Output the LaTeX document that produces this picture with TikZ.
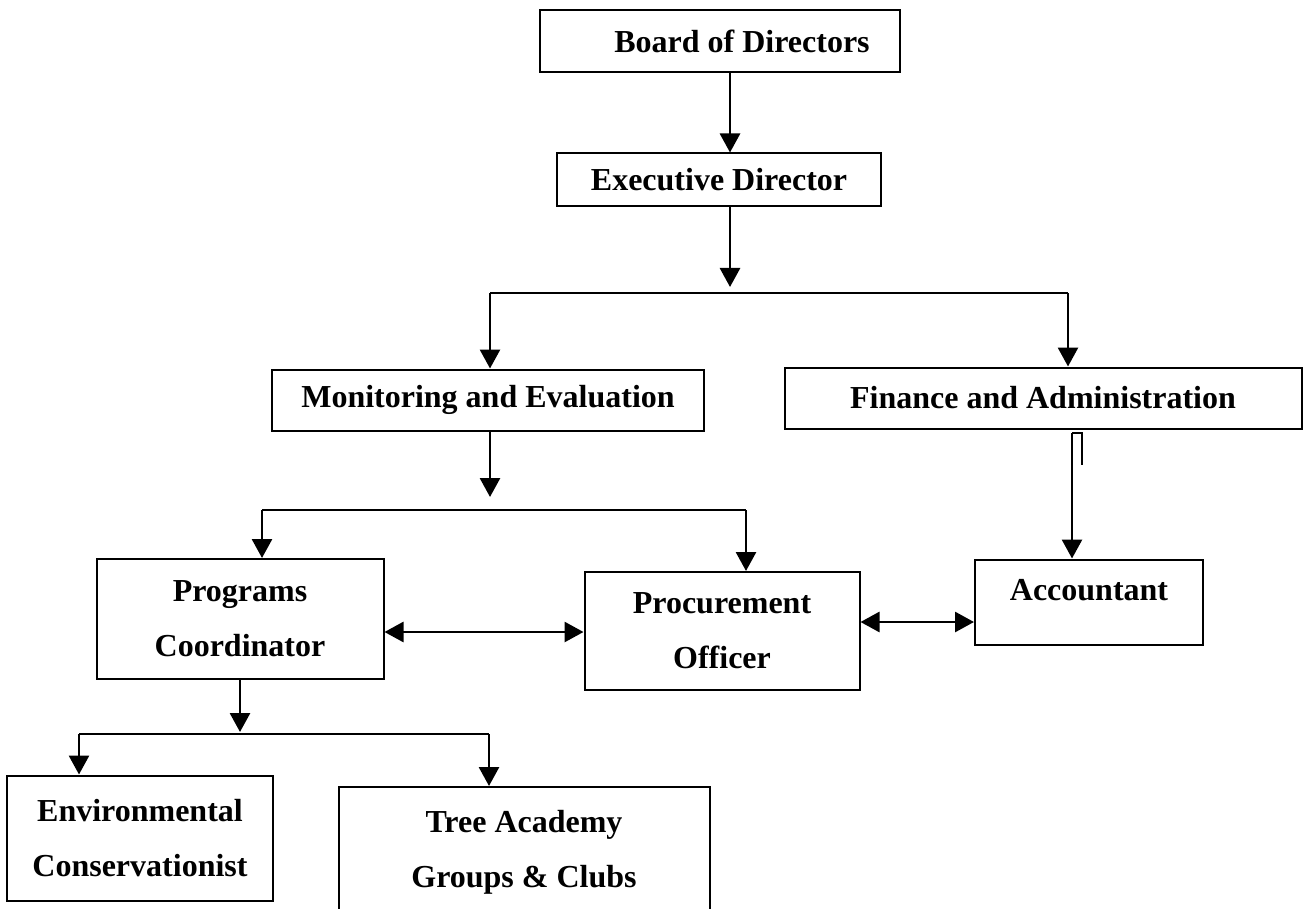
\documentclass[tikz,border=0pt]{standalone}
\usepackage{fontspec}
\setmainfont{Liberation Serif}
\usetikzlibrary{arrows.meta}

\begin{document}
\begin{tikzpicture}[x=1pt, y=-1pt, line width=2pt, font=\fontsize{32}{55}\selectfont\bfseries]
		\tikzstyle{box}=[draw, rectangle, inner sep=0pt, align=center]
		\tikzstyle{link}=[-{Triangle[length=19pt,width=20pt]}, line width=2.8pt]
		\tikzstyle{twoway}=[{Triangle[length=19pt,width=20pt]}-{Triangle[length=19pt,width=20pt]}, line width=2.8pt]
		\tikzstyle{bus}=[line width=2.4pt]
		
		\useasboundingbox (0,0) rectangle (1303,909);
		\clip (0,0) rectangle (1303,909);
		
		% Top of the chart
		\node[box, minimum width=360pt, minimum height=62pt] (board) at (720,41) {\hspace*{44pt}Board of Directors};
		\node[box, minimum width=324pt, minimum height=53pt] (exec) at (719,180) {Executive Director};
		\draw[link] ([xshift=10pt]board.south) -- ([xshift=10pt]board.south |- exec.north);
		
		% Second level
		\node[box, minimum width=432pt, minimum height=61pt] (monitor) at (488,400) {Monitoring and Evaluation};
		\node[box, minimum width=517pt, minimum height=61pt] (finance) at (1043,398) {Finance and Administration};
		\coordinate (split1) at (730,293);
		\coordinate (split1-l) at (490,293);
		\coordinate (split1-r) at (1068,293);
		\draw[link] (exec.south -| split1) -- ([yshift=6pt]split1);
		\draw[bus] (split1-l) -- (split1-r);
		\draw[link] (split1-l) -- (split1-l |- monitor.north);
		\draw[link] (split1-r) -- (split1-r |- finance.north);
		
		% Third level
		\node[box, minimum width=287pt, minimum height=120pt] (programs) at (240,619) {Programs\\Coordinator};
		\node[box, minimum width=275pt, minimum height=118pt] (procure) at (722,631) {Procurement\\Officer};
		\node[box, minimum width=228pt, minimum height=85pt, text height=22pt, text depth=26pt] (account) at (1089,602) {Accountant};
		\coordinate (split2) at (490,510);
		\coordinate (split2-l) at (262,510);
		\coordinate (split2-r) at (746,510);
		\draw[link] (monitor.south -| split2) -- ([yshift=13pt]split2);
		\draw[bus] (split2-l) -- (split2-r);
		\draw[link] (split2-l) -- (split2-l |- programs.north);
		\draw[link] (split2-r) -- (split2-r |- procure.north);
		
		% Finance down to the accountant
		\coordinate (down3) at (1072,433);
		\draw[link] (down3) -- (down3 |- account.north);
		\draw[bus] (down3) -- ++(10,0) -- ++(0,32);
		
		% Side links
		\draw[twoway] ([yshift=-13pt]programs.east) -- ([yshift=-13pt]programs.east -| procure.west);
		\draw[twoway] ([yshift=9pt]procure.east) -- ([yshift=9pt]procure.east -| account.west);
		
		% Bottom level
		\node[box, minimum width=266pt, minimum height=125pt] (env) at (140,838) {Environmental\\Conservationist};
		\node[box, minimum width=371pt, minimum height=130pt] (tree) at (524,852) {Tree Academy\\Groups \& Clubs};
		\coordinate (split3) at (240,734);
		\coordinate (split3-l) at (79,734);
		\coordinate (split3-r) at (489,734);
		\draw[link] (programs.south) -- ([yshift=2pt]split3);
		\draw[bus] (split3-l) -- (split3-r);
		\draw[link] (split3-l) -- (split3-l |- env.north);
		\draw[link] (split3-r) -- (split3-r |- tree.north);
	\end{tikzpicture}
\end{document}
